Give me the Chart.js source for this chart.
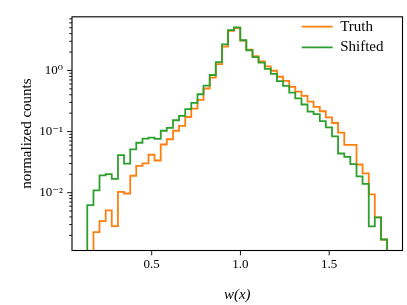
<!DOCTYPE html>
<html>
<head>
<meta charset="utf-8">
<script src="https://cdn.jsdelivr.net/npm/chart.js@4.4.0/dist/chart.umd.min.js"></script>
<style>
  html, body { margin: 0; padding: 0; background: #fff; }
  #wrap { width: 407px; height: 305px; }
</style>
</head>
<body>
<div id="wrap"><canvas id="hist-chart" width="407" height="305"></canvas></div>
<script>
// bin edges of the histogram (shared by both series)
const binEdges = [0.137, 0.172, 0.206, 0.241, 0.275, 0.310, 0.344, 0.379, 0.413, 0.448,
  0.482, 0.516, 0.551, 0.585, 0.620, 0.654, 0.689, 0.723, 0.758, 0.792,
  0.827, 0.861, 0.896, 0.930, 0.964, 0.999, 1.033, 1.068, 1.102, 1.137,
  1.171, 1.206, 1.240, 1.275, 1.309, 1.344, 1.378, 1.412, 1.447, 1.481,
  1.516, 1.550, 1.585, 1.619, 1.654, 1.688, 1.723, 1.757, 1.792, 1.826];

const truthCounts = [null, 0.00225, 0.00342, 0.00513, 0.00283, 0.0103, 0.00968, 0.0189, 0.0274, 0.0302,
  0.0417, 0.0336, 0.0614, 0.0748, 0.103, 0.124, 0.173, 0.238, 0.329, 0.506,
  0.761, 1.27, 2.45, 4.46, 4.92, 3.07, 2.18, 1.71, 1.40, 1.17,
  0.989, 0.789, 0.674, 0.538, 0.449, 0.383, 0.308, 0.253, 0.215, 0.171,
  0.138, 0.0961, 0.0603, 0.0603, 0.0289, 0.0206, 0.00934, 0.00395, 0.00171];

const shiftedCounts = [0.00623, 0.0109, 0.0191, 0.0201, 0.0168, 0.0411, 0.0298, 0.0510, 0.0655, 0.0767,
  0.0795, 0.0761, 0.103, 0.115, 0.153, 0.181, 0.233, 0.295, 0.408, 0.563,
  0.842, 1.37, 2.67, 4.58, 5.06, 3.12, 2.14, 1.65, 1.34, 1.06,
  0.879, 0.667, 0.557, 0.434, 0.350, 0.277, 0.212, 0.193, 0.148, 0.117,
  0.0833, 0.0437, 0.0385, 0.0294, 0.0185, 0.0139, 0.00281, 0.00395, 0.00171];

const seriesLabels = ["Truth", "Shifted"];
const seriesColors = ["#ff7f0e", "#2ca02c"];

const xTicks = [0.5, 1.0, 1.5];
const yTicks = [0.01, 0.1, 1];
const yTickLabels = ["10\u207B\u00B2", "10\u207B\u00B9", "10\u2070"];

const xRange = [0.051, 1.913];
const yRange = [0.00113, 7.55];
const BASE = 1e-5; // below the axis, so the outline drops off the plot

// minor ticks on the log axis: 2..9 x each decade
const yMinor = [];
[0.001, 0.01, 0.1, 1].forEach((d) => {
  for (let m = 2; m <= 9; m++) {
    const v = m * d;
    if (v > yRange[0] && v < yRange[1]) yMinor.push(v);
  }
});

function stepPoints(counts) {
  const pts = [{ x: binEdges[0], y: BASE }];
  counts.forEach((c, i) => pts.push({ x: binEdges[i], y: c === null ? BASE : c }));
  const last = counts[counts.length - 1];
  pts.push({ x: binEdges[counts.length], y: last });
  pts.push({ x: binEdges[counts.length], y: BASE });
  return pts;
}

Chart.defaults.font.family = "'Liberation Serif', 'DejaVu Serif', serif";
Chart.defaults.color = "#000";

// frame + tick marks like matplotlib (major/minor lengths differ)
const frameAndTicks = {
  id: "frameAndTicks",
  afterDatasetsDraw(chart) {
    const { ctx, chartArea: a, scales } = chart;
    ctx.save();
    ctx.strokeStyle = "#000";
    ctx.lineWidth = 0.9;
    ctx.beginPath();
    scales.x.ticks.forEach((t) => {
      const px = scales.x.getPixelForValue(t.value);
      ctx.moveTo(px, a.bottom);
      ctx.lineTo(px, a.bottom + 4.9);
    });
    scales.y.ticks.forEach((t) => {
      const py = scales.y.getPixelForValue(t.value);
      ctx.moveTo(a.left, py);
      ctx.lineTo(a.left - (t.major ? 4.9 : 2.8), py);
    });
    ctx.stroke();
    ctx.lineWidth = 1.1;
    ctx.strokeRect(a.left, a.top, a.right - a.left, a.bottom - a.top);
    ctx.restore();
  },
};

// move the legend to the upper right corner of the plot
const legendPlacer = {
  id: "legendPlacer",
  afterLayout(chart) {
    chart.legend.left = 296;
    chart.legend.top = 13.5;
  },
};

const ctx = document.getElementById("hist-chart");
new Chart(ctx, {
  type: "line",
  data: {
    datasets: [
      {
        label: seriesLabels[0],
        data: stepPoints(truthCounts),
        borderColor: seriesColors[0],
        backgroundColor: seriesColors[0],
        borderWidth: 1.8,
        stepped: true,
        pointRadius: 0,
        fill: false,
        order: 1,
      },
      {
        label: seriesLabels[1],
        data: stepPoints(shiftedCounts),
        borderColor: seriesColors[1],
        backgroundColor: seriesColors[1],
        borderWidth: 1.8,
        stepped: true,
        pointRadius: 0,
        fill: false,
        order: 0,
      },
    ],
  },
  options: {
    responsive: false,
    animation: false,
    devicePixelRatio: 1,
    layout: { padding: { top: 5.5, right: 4.5, left: 0, bottom: 0 } },
    plugins: {
      tooltip: { enabled: false },
      legend: {
        position: "chartArea",
        align: "start",
        labels: {
          usePointStyle: true,
          pointStyle: "line",
          pointStyleWidth: 31,
          padding: 5.7,
          color: "#000",
          font: { size: 15 },
          sort: (a, b) => a.datasetIndex - b.datasetIndex,
        },
      },
    },
    scales: {
      x: {
        type: "linear",
        min: xRange[0],
        max: xRange[1],
        afterBuildTicks: (scale) => {
          scale.ticks = xTicks.map((v) => ({ value: v }));
        },
        afterFit: (scale) => {
          scale.height = 54.5;
        },
        ticks: {
          autoSkip: false,
          maxRotation: 0,
          padding: 6.5,
          font: { size: 13 },
          callback: (v) => Number(v).toFixed(1),
        },
        grid: { display: false, drawTicks: false },
        border: { display: false },
        title: {
          display: true,
          text: "w(x)",
          font: { size: 15, style: "italic" },
          padding: { top: 0, bottom: 0.5 },
        },
      },
      y: {
        type: "logarithmic",
        min: yRange[0],
        max: yRange[1],
        afterBuildTicks: (scale) => {
          scale.ticks = yTicks
            .map((v) => ({ value: v, major: true }))
            .concat(yMinor.map((v) => ({ value: v, major: false })));
        },
        afterFit: (scale) => {
          scale.width = 72;
        },
        ticks: {
          autoSkip: false,
          padding: 9,
          font: { size: 13 },
          callback: function (v, i, ticks) {
            const k = yTicks.indexOf(ticks[i].value);
            return k >= 0 ? yTickLabels[k] : "";
          },
        },
        grid: { display: false, drawTicks: false },
        border: { display: false },
        title: {
          display: true,
          text: "normalized counts",
          font: { size: 15 },
          padding: { top: 17.7, bottom: 0 },
        },
      },
    },
  },
  plugins: [frameAndTicks, legendPlacer],
});
</script>
</body>
</html>
